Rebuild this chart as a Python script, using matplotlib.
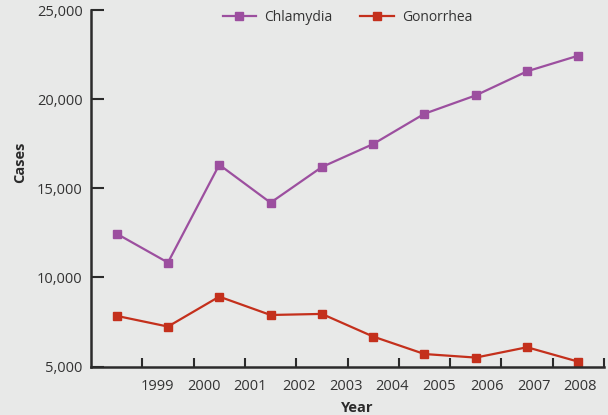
import matplotlib
matplotlib.use("Agg")
import matplotlib.pyplot as plt
from matplotlib.ticker import FixedLocator, FuncFormatter

# data (cases per year)
years = ["1999", "2000", "2001", "2002", "2003", "2004", "2005", "2006", "2007", "2008"]
chlamydia = [12450, 10830, 16320, 14190, 16190, 17480, 19180, 20210, 21560, 22440]
gonorrhea = [7840, 7240, 8920, 7890, 7950, 6680, 5700, 5500, 6080, 5270]

# year labels in the original sit slightly off the tick grid
label_pos = [0.80, 1.70, 2.59, 3.56, 4.48, 5.37, 6.29, 7.22, 8.13, 9.03]

BG = "#e8e9e8"
INK = "#2b2b2b"
TXT = "#333333"
PURPLE = "#9c4f9f"
RED = "#c4301c"

plt.rcParams["font.family"] = ["Open Sans", "DejaVu Sans"]

fig = plt.figure(figsize=(6.08, 4.15), dpi=100, facecolor=BG)
ax = fig.add_axes([91 / 608, 1 - 366.5 / 415, 513 / 608, 356.5 / 415])
ax.set_facecolor(BG)

x = list(range(len(years)))
ax.plot(x, chlamydia, color=PURPLE, lw=1.6, marker="s", ms=6,
        mec=PURPLE, mfc=PURPLE, label="Chlamydia", clip_on=False)
ax.plot(x, gonorrhea, color=RED, lw=1.6, marker="s", ms=6,
        mec=RED, mfc=RED, label="Gonorrhea", clip_on=False)

ax.set_xlim(-0.5, 9.5)
ax.set_ylim(5000, 25000)

# spines
for s in ["top", "right"]:
    ax.spines[s].set_visible(False)
for s in ["left", "bottom"]:
    ax.spines[s].set_color(INK)
    ax.spines[s].set_linewidth(1.8)

# y axis
ax.set_yticks([5000, 10000, 15000, 20000, 25000])
ax.yaxis.set_major_formatter(FuncFormatter(lambda v, p: f"{int(v):,}"))
ax.tick_params(axis="y", direction="in", length=9.5, width=1.5, color=INK,
               labelsize=10.5, labelcolor=TXT, pad=6)

# x axis: grid ticks between points, year labels as minor ticks
ax.xaxis.set_major_locator(FixedLocator([i + 0.5 for i in range(len(years))]))
ax.xaxis.set_major_formatter(FuncFormatter(lambda v, p: ""))
ax.set_xticks(label_pos, years, minor=True)
ax.tick_params(axis="x", which="major", direction="in", length=6.5, width=1.5, color=INK)
ax.tick_params(axis="x", which="minor", length=0, labelsize=10.5, labelcolor=TXT, pad=9)

ax.set_xlabel("Year", fontsize=10.5, fontweight="bold", color=INK, va="center")
ax.set_ylabel("Cases", fontsize=10.5, fontweight="bold", color=INK, va="center")
ax.xaxis.set_label_coords(0.518, -0.116)
ax.yaxis.set_label_coords(-0.138, 0.574)

ax.legend(loc="upper center", bbox_to_anchor=(0.5, 1.035), ncol=2,
          frameon=False, fontsize=10, handlelength=2.4, columnspacing=2.0,
          handletextpad=0.6, labelcolor=TXT)

fig.savefig("out.png", dpi=100, facecolor=BG)
